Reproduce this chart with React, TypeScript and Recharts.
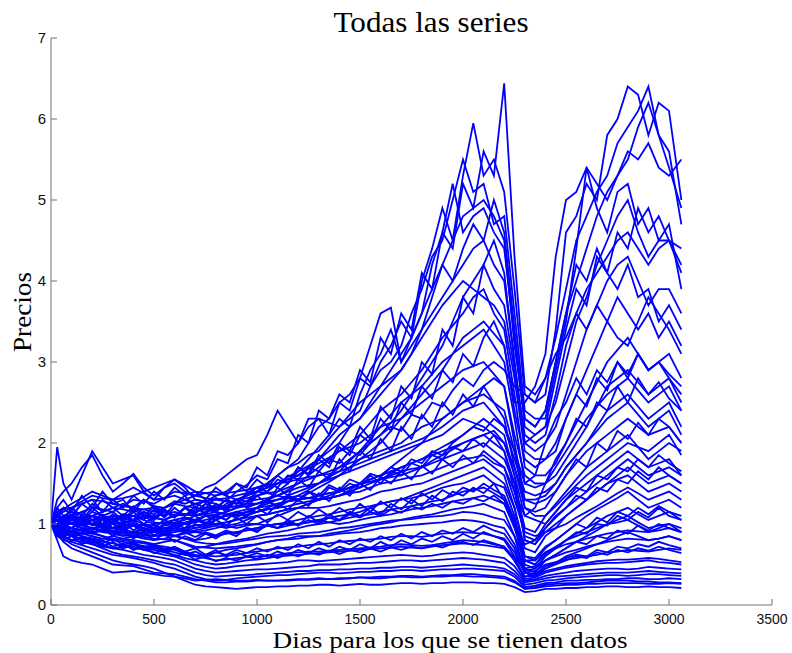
import React from "react";
import { LineChart, Line, XAxis, YAxis } from "recharts";

const days = [0, 30, 60, 100, 150, 200, 250, 300, 350, 400, 450, 500, 550, 600, 650, 700, 750, 800, 850, 900, 950,
  1000, 1050, 1100, 1150, 1200, 1250, 1300, 1350, 1400, 1450, 1500, 1550, 1600, 1650, 1700, 1750, 1800, 1850, 1900, 1950,
  2000, 2050, 2100, 2150, 2200, 2250, 2300, 2350, 2400, 2450,
  2500, 2550, 2600, 2650, 2700, 2750, 2800, 2850, 2900, 2950, 3000, 3060];
const xTicks = [0, 500, 1000, 1500, 2000, 2500, 3000, 3500];
const yTicks = [0, 1, 2, 3, 4, 5, 6, 7];

// high group
const h1 = [1.0, 1.1, 1.05,
  1.12, 1.05, 1.2, 1.1, 1.15, 1.05, 1.18, 1.1, 1.22, 1.15, 1.1, 1.2, 1.25, 1.2, 1.32, 1.28, 1.4, 1.48,
  1.6, 1.55, 1.8, 1.75, 2.1, 2.0, 2.4, 2.3, 2.6, 2.5, 2.9, 2.75, 3.3, 3.1, 3.6, 3.4, 4.1, 3.9, 4.6, 4.4,
  5.2, 4.9, 5.6, 5.3, 6.44, 4.3, 2.7, 2.6, 2.8, 3.3,
  3.9, 4.5, 4.8, 5.1, 5.3, 5.7, 5.9, 6.1, 6.4, 5.8, 5.6, 4.7];
const h2 = [1.0, 0.95, 1.05,
  1.1, 1.25, 1.3, 1.15, 1.2, 1.25, 1.2, 1.3, 1.22, 1.2, 1.28, 1.25, 1.3, 1.27, 1.35, 1.4, 1.5, 1.45,
  1.7, 1.6, 1.9, 1.85, 2.0, 2.2, 2.3, 2.1, 2.5, 2.4, 2.8, 2.7, 3.0, 3.2, 3.5, 3.3, 4.0, 4.4, 4.9, 4.5,
  5.3, 5.95, 5.3, 5.5, 5.1, 3.9, 2.6, 2.5, 2.6, 3.4,
  4.6, 4.8, 5.2, 5.0, 5.8, 6.0, 6.4, 6.3, 5.8, 6.2, 6.1, 5.0];
const h3 = [1.0, 1.1, 1.0,
  0.95, 1.05, 1.15, 1.1, 1.05, 1.12, 1.1, 1.0, 1.08, 1.05, 1.12, 1.1, 1.18, 1.2, 1.22, 1.2, 1.3, 1.28,
  1.4, 1.5, 1.6, 1.7, 1.75, 1.85, 1.9, 2.05, 2.2, 2.3, 2.4, 2.7, 2.9, 3.0, 3.2, 3.6, 3.9, 4.3, 4.5, 5.0,
  5.5, 5.1, 5.2, 4.7, 4.8, 3.6, 2.4, 2.3, 2.3, 2.9,
  3.5, 4.4, 5.4, 4.9, 4.6, 5.1, 5.2, 4.7, 4.9, 4.5, 4.5, 4.4];
const h4 = [1.0, 1.2, 1.1,
  1.1, 1.05, 1.0, 1.08, 1.05, 1.0, 1.05, 1.1, 1.02, 1.0, 1.05, 1.08, 1.05, 1.1, 1.12, 1.15, 1.2, 1.25,
  1.35, 1.4, 1.5, 1.55, 1.6, 1.7, 1.8, 1.9, 2.0, 2.2, 2.3, 2.5, 2.7, 2.9, 3.1, 3.3, 3.6, 4.2, 4.6, 5.2,
  4.6, 4.8, 4.9, 4.6, 4.4, 3.3, 2.2, 2.1, 2.2, 2.5,
  3.0, 3.5, 3.8, 4.2, 4.5, 4.8, 5.0, 4.6, 4.3, 4.5, 4.7, 3.9];
const h5 = [1.0, 0.9, 1.0,
  1.05, 1.0, 1.0, 0.95, 0.95, 1.0, 0.98, 0.95, 0.92, 1.0, 1.02, 1.05, 1.1, 1.15, 1.2, 1.18, 1.3, 1.35,
  1.45, 1.5, 1.6, 1.7, 1.8, 2.0, 2.2, 2.3, 2.5, 2.6, 2.8, 3.2, 3.6, 3.67, 3.0, 3.2, 3.4, 3.6, 3.8, 4.0,
  4.2, 4.4, 4.5, 4.2, 4.0, 3.0, 2.0, 1.9, 2.0, 2.2,
  2.6, 3.0, 3.4, 3.7, 4.0, 4.2, 4.3, 4.0, 3.7, 3.9, 3.9, 3.6];
const h6 = [1.0, 1.05, 1.1,
  1.1, 1.0, 1.0, 1.05, 1.1, 1.05, 1.1, 1.15, 1.12, 1.2, 1.25, 1.3, 1.35, 1.45, 1.5, 1.6, 1.7, 1.8,
  1.85, 2.1, 2.4, 2.2, 2.0, 2.3, 2.3, 2.25, 2.2, 2.35, 2.5, 2.6, 2.7, 2.8, 2.9, 3.1, 3.3, 3.5, 3.7, 3.85,
  4.0, 3.9, 3.8, 3.7, 3.5, 2.8, 1.9, 1.8, 1.8, 1.9,
  2.3, 2.6, 2.9, 3.2, 3.5, 3.3, 3.2, 3.5, 3.8, 3.6, 3.4, 3.1];
const h7 = [1.0, 1.0, 0.95,
  0.9, 0.92, 0.95, 0.9, 0.88, 0.85, 0.88, 0.9, 0.92, 0.95, 0.98, 1.0, 1.05, 1.1, 1.1, 1.15, 1.2, 1.22,
  1.25, 1.3, 1.35, 1.42, 1.5, 1.6, 1.7, 1.8, 1.9, 2.0, 2.1, 2.25, 2.4, 2.5, 2.6, 2.75, 2.9, 3.1, 3.3, 3.45,
  3.6, 3.8, 3.9, 3.6, 3.4, 2.6, 1.7, 1.6, 1.6, 1.75,
  2.0, 2.25, 2.5, 2.75, 3.0, 3.15, 3.3, 3.1, 2.9, 3.0, 3.1, 2.8];
const h8 = [1.0, 0.95, 1.0,
  1.0, 1.05, 1.1, 1.05, 1.0, 0.95, 0.98, 1.0, 0.95, 0.9, 0.92, 0.95, 0.98, 1.0, 1.05, 1.1, 1.12, 1.15,
  1.2, 1.25, 1.3, 1.35, 1.4, 1.45, 1.5, 1.6, 1.7, 1.8, 1.9, 2.05, 2.2, 2.35, 2.5, 2.6, 2.7, 2.85, 3.0, 3.1,
  3.2, 3.3, 3.4, 3.2, 3.0, 2.3, 1.5, 1.45, 1.5, 1.6,
  1.8, 2.0, 2.2, 2.45, 2.7, 2.8, 2.9, 2.75, 2.6, 2.7, 2.8, 2.5];
const h9 = [1.0, 1.1, 1.05,
  1.0, 1.02, 1.05, 1.0, 0.95, 0.92, 0.9, 0.95, 0.92, 0.9, 0.95, 1.0, 1.02, 1.05, 1.08, 1.1, 1.12, 1.15,
  1.15, 1.2, 1.25, 1.28, 1.3, 1.38, 1.45, 1.52, 1.6, 1.7, 1.8, 1.9, 2.0, 2.15, 2.3, 2.45, 2.6, 2.75, 2.9, 3.1,
  3.3, 3.4, 3.5, 3.35, 3.2, 2.5, 2.5, 2.7, 3.1, 4.3,
  5.0, 5.1, 5.4, 5.2, 5.0, 5.3, 5.6, 5.5, 5.7, 5.4, 5.3, 5.5];
const h10 = [1.0, 1.0, 1.02,
  1.05, 1.0, 0.95, 0.98, 1.0, 1.02, 1.05, 1.0, 0.98, 0.95, 0.92, 0.9, 0.92, 0.95, 0.98, 0.95, 0.98, 1.0,
  1.0, 1.05, 1.1, 1.15, 1.2, 1.25, 1.3, 1.32, 1.35, 1.42, 1.5, 1.55, 1.6, 1.7, 1.8, 1.9, 2.0, 2.15, 2.3, 2.4,
  2.5, 2.6, 2.7, 2.8, 2.7, 2.0, 1.3, 1.3, 1.35, 1.5,
  1.7, 1.85, 2.0, 2.2, 2.4, 2.5, 2.6, 2.45, 2.3, 2.4, 2.5, 2.2];
const h11 = [1.0, 1.05, 1.02,
  1.0, 0.95, 0.9, 0.92, 0.95, 0.92, 0.9, 0.88, 0.85, 0.88, 0.9, 0.92, 0.95, 0.98, 1.0, 1.02, 1.05, 1.1,
  1.15, 1.18, 1.2, 1.28, 1.35, 1.42, 1.5, 1.58, 1.65, 1.78, 1.9, 2.0, 2.1, 2.25, 2.4, 2.6, 2.8, 3.0, 3.2, 3.5,
  3.8, 4.0, 4.2, 3.9, 3.7, 2.9, 2.1, 2.0, 2.1, 2.6,
  3.2, 3.6, 3.9, 4.1, 4.3, 4.5, 4.6, 4.4, 4.2, 4.4, 4.5, 4.1];
const h12 = [1.0, 1.1, 1.08,
  1.05, 1.08, 1.1, 1.05, 1.0, 1.02, 1.05, 1.1, 1.08, 1.05, 1.1, 1.12, 1.1, 1.15, 1.18, 1.2, 1.22, 1.25,
  1.4, 1.45, 1.5, 1.58, 1.65, 1.72, 1.8, 1.95, 2.1, 2.2, 2.3, 2.45, 2.6, 2.75, 2.9, 3.1, 3.4, 3.8, 4.2, 4.5,
  4.8, 4.9, 5.0, 4.8, 4.5, 3.2, 2.3, 2.2, 2.4, 3.0,
  3.6, 4.0, 4.4, 4.8, 5.1, 5.3, 5.5, 5.9, 6.2, 5.8, 5.4, 4.9];
const h13 = [1.0, 1.0, 1.1,
  1.05, 1.15, 1.05, 1.12, 1.0, 1.1, 1.02, 1.12, 1.05, 1.15, 1.08, 1.2, 1.12, 1.25, 1.18, 1.3, 1.25, 1.38,
  1.45, 1.4, 1.55, 1.5, 1.7, 1.62, 1.85, 1.75, 2.0, 1.9, 2.2, 2.05, 2.45, 2.3, 2.7, 2.55, 3.0, 2.85, 3.4, 3.2,
  3.8, 3.6, 4.2, 4.5, 4.1, 3.0, 2.0, 2.1, 2.2, 2.8,
  3.4, 3.9, 3.7, 4.3, 4.1, 4.6, 4.4, 4.9, 4.6, 4.8, 4.5, 4.2];
const h14 = [1.0, 1.05, 1.0,
  1.1, 1.0, 1.05, 0.95, 1.0, 0.92, 0.98, 0.9, 0.95, 0.92, 1.0, 0.95, 1.05, 1.0, 1.1, 1.05, 1.15, 1.1,
  1.2, 1.3, 1.4, 1.5, 1.65, 1.8, 1.95, 2.1, 2.3, 2.2, 2.6, 2.9, 3.1, 3.4, 3.0, 3.3, 3.6, 3.9, 4.2, 4.0,
  4.4, 4.7, 4.5, 5.0, 4.6, 3.4, 2.3, 2.2, 2.4, 3.0,
  3.6, 4.2, 4.0, 4.4, 4.1, 3.9, 4.2, 3.8, 3.9, 3.5, 3.7, 3.4];

// middle group
const m1 = [1.0, 1.95, 1.5,
  1.3, 1.6, 1.9, 1.7, 1.5, 1.55, 1.6, 1.4, 1.3, 1.45, 1.5, 1.4, 1.35, 1.38, 1.4, 1.35, 1.3, 1.32,
  1.35, 1.38, 1.4, 1.45, 1.5, 1.55, 1.6, 1.65, 1.7, 1.75, 1.8, 1.85, 1.9, 1.95, 2.0, 2.1, 2.2, 2.25, 2.3, 2.4,
  2.5, 2.55, 2.6, 2.5, 2.4, 1.9, 1.2, 1.1, 1.1, 1.25,
  1.4, 1.55, 1.7, 1.8, 1.9, 2.0, 2.1, 1.95, 1.8, 1.9, 2.0, 1.9];
const m2 = [1.0, 1.3, 1.4,
  1.5, 1.7, 1.85, 1.6, 1.4, 1.5, 1.62, 1.45, 1.35, 1.45, 1.55, 1.45, 1.3, 1.28, 1.25, 1.2, 1.22, 1.25,
  1.25, 1.28, 1.3, 1.32, 1.35, 1.32, 1.3, 1.35, 1.4, 1.45, 1.5, 1.52, 1.55, 1.58, 1.6, 1.65, 1.7, 1.75, 1.8, 1.85,
  1.9, 1.95, 2.0, 1.9, 1.8, 1.5, 0.8, 0.75, 0.9, 1.0,
  1.1, 1.2, 1.3, 1.4, 1.5, 1.55, 1.6, 1.5, 1.4, 1.45, 1.5, 1.4];
const m3 = [1.0, 1.15, 1.2,
  1.2, 1.25, 1.3, 1.28, 1.25, 1.22, 1.2, 1.18, 1.15, 1.2, 1.25, 1.22, 1.2, 1.18, 1.15, 1.12, 1.1, 1.12,
  1.15, 1.18, 1.2, 1.22, 1.25, 1.28, 1.3, 1.32, 1.35, 1.38, 1.4, 1.45, 1.5, 1.52, 1.55, 1.58, 1.6, 1.65, 1.7, 1.75,
  1.8, 1.82, 1.85, 1.75, 1.7, 1.3, 0.9, 0.85, 0.9, 0.95,
  1.0, 1.08, 1.15, 1.22, 1.3, 1.38, 1.45, 1.38, 1.3, 1.35, 1.4, 1.3];
const m4 = [1.0, 1.05, 1.0,
  0.95, 1.02, 1.1, 1.08, 1.05, 1.08, 1.1, 1.05, 1.0, 1.02, 1.05, 1.0, 0.95, 0.98, 1.0, 1.02, 1.05, 1.08,
  1.1, 1.12, 1.15, 1.18, 1.2, 1.2, 1.2, 1.22, 1.25, 1.28, 1.3, 1.35, 1.4, 1.42, 1.45, 1.48, 1.5, 1.55, 1.6, 1.65,
  1.7, 1.75, 1.8, 1.7, 1.6, 1.2, 0.6, 0.55, 0.7, 0.8,
  0.9, 1.0, 1.1, 1.18, 1.25, 1.32, 1.4, 1.3, 1.2, 1.25, 1.3, 1.2];
const m5 = [1.0, 0.9, 0.88,
  0.85, 0.9, 0.95, 0.92, 0.9, 0.88, 0.85, 0.82, 0.8, 0.82, 0.85, 0.82, 0.8, 0.82, 0.85, 0.88, 0.9, 0.92,
  0.95, 0.98, 1.0, 1.02, 1.05, 1.08, 1.1, 1.12, 1.15, 1.18, 1.2, 1.22, 1.25, 1.28, 1.3, 1.32, 1.35, 1.4, 1.45, 1.48,
  1.5, 1.55, 1.6, 1.5, 1.45, 1.1, 0.5, 0.45, 0.6, 0.7,
  0.8, 0.88, 0.95, 1.02, 1.1, 1.15, 1.2, 1.12, 1.05, 1.1, 1.15, 1.05];
const m6 = [1.0, 1.0, 1.05,
  1.1, 1.15, 1.2, 1.18, 1.15, 1.22, 1.3, 1.28, 1.25, 1.32, 1.4, 1.38, 1.35, 1.32, 1.3, 1.28, 1.25, 1.28,
  1.3, 1.32, 1.35, 1.4, 1.45, 1.48, 1.5, 1.55, 1.6, 1.65, 1.7, 1.75, 1.8, 1.85, 1.9, 1.95, 2.0, 2.05, 2.1, 2.2,
  2.3, 2.25, 2.2, 2.1, 2.0, 1.6, 1.1, 1.05, 1.0, 1.15,
  1.3, 1.4, 1.5, 1.6, 1.7, 1.8, 1.9, 1.8, 1.7, 1.75, 1.8, 1.6];
const m7 = [1.0, 0.95, 0.92,
  0.9, 0.85, 0.8, 0.82, 0.85, 0.82, 0.8, 0.78, 0.75, 0.78, 0.8, 0.75, 0.7, 0.72, 0.75, 0.78, 0.8, 0.82,
  0.85, 0.88, 0.9, 0.92, 0.95, 0.98, 1.0, 1.02, 1.05, 1.08, 1.1, 1.12, 1.15, 1.18, 1.2, 1.22, 1.25, 1.28, 1.3, 1.35,
  1.4, 1.42, 1.45, 1.38, 1.3, 1.0, 0.45, 0.4, 0.55, 0.62,
  0.7, 0.78, 0.85, 0.92, 1.0, 1.05, 1.1, 1.02, 0.95, 0.98, 1.0, 0.95];
const m8 = [1.0, 1.1, 1.08,
  1.05, 1.02, 1.0, 0.98, 0.95, 0.98, 1.0, 0.95, 0.9, 0.92, 0.95, 0.92, 0.9, 0.88, 0.85, 0.88, 0.9, 0.92,
  0.95, 0.98, 1.0, 1.0, 1.0, 1.02, 1.05, 1.08, 1.1, 1.12, 1.15, 1.2, 1.25, 1.28, 1.3, 1.35, 1.4, 1.45, 1.5, 1.55,
  1.6, 1.65, 1.7, 1.6, 1.5, 1.2, 0.7, 0.65, 0.85, 0.95,
  1.1, 1.2, 1.3, 1.4, 1.5, 1.6, 1.7, 1.6, 1.5, 1.55, 1.6, 1.5];
const m9 = [1.0, 1.05, 1.1,
  1.15, 1.12, 1.1, 1.15, 1.2, 1.18, 1.15, 1.18, 1.2, 1.15, 1.1, 1.12, 1.15, 1.18, 1.2, 1.22, 1.3, 1.35,
  1.4, 1.45, 1.5, 1.55, 1.6, 1.68, 1.75, 1.82, 1.9, 1.95, 2.0, 2.1, 2.2, 2.25, 2.3, 2.4, 2.5, 2.6, 2.7, 2.8,
  2.9, 2.95, 3.0, 2.85, 2.7, 2.1, 1.6, 1.5, 1.5, 1.7,
  1.9, 2.1, 2.3, 2.45, 2.6, 2.7, 2.8, 2.65, 2.5, 2.6, 2.7, 2.4];
const m10 = [1.0, 0.9, 0.92,
  0.95, 0.92, 0.9, 0.92, 0.95, 0.98, 1.0, 0.98, 0.95, 0.98, 1.0, 1.02, 1.05, 1.02, 1.0, 0.98, 0.95, 0.98,
  1.0, 0.98, 0.95, 0.98, 1.0, 1.02, 1.05, 1.02, 1.0, 1.02, 1.05, 1.08, 1.1, 1.12, 1.15, 1.18, 1.2, 1.22, 1.25, 1.28,
  1.3, 1.32, 1.35, 1.3, 1.25, 0.95, 0.55, 0.5, 0.65, 0.72,
  0.8, 0.85, 0.9, 0.95, 1.0, 1.02, 1.05, 0.98, 0.9, 0.95, 1.0, 0.9];
const m11 = [1.0, 1.1, 1.15,
  1.2, 1.28, 1.35, 1.32, 1.3, 1.38, 1.45, 1.38, 1.3, 1.32, 1.35, 1.3, 1.25, 1.28, 1.3, 1.32, 1.35, 1.38,
  1.4, 1.38, 1.35, 1.32, 1.3, 1.32, 1.35, 1.38, 1.4, 1.45, 1.5, 1.52, 1.55, 1.6, 1.65, 1.68, 1.7, 1.78, 1.85, 1.92,
  2.0, 2.05, 2.1, 2.0, 1.9, 1.5, 0.95, 0.9, 1.1, 1.22,
  1.35, 1.48, 1.6, 1.7, 1.8, 1.9, 2.0, 1.95, 1.9, 2.0, 2.1, 1.85];
const m12 = [1.0, 0.9, 0.85,
  0.8, 0.78, 0.75, 0.72, 0.7, 0.72, 0.75, 0.72, 0.7, 0.68, 0.65, 0.62, 0.6, 0.62, 0.65, 0.68, 0.7, 0.72,
  0.75, 0.78, 0.8, 0.82, 0.85, 0.85, 0.85, 0.88, 0.9, 0.92, 0.95, 0.98, 1.0, 1.02, 1.05, 1.08, 1.1, 1.12, 1.15, 1.18,
  1.2, 1.22, 1.25, 1.2, 1.15, 0.85, 0.4, 0.35, 0.45, 0.52,
  0.6, 0.65, 0.7, 0.75, 0.8, 0.85, 0.9, 0.85, 0.8, 0.82, 0.85, 0.8];
const m13 = [1.0, 1.05, 1.02,
  1.0, 1.02, 1.05, 1.08, 1.1, 1.08, 1.05, 1.08, 1.1, 1.12, 1.15, 1.12, 1.1, 1.12, 1.15, 1.12, 1.15, 1.18,
  1.2, 1.22, 1.25, 1.28, 1.3, 1.32, 1.35, 1.38, 1.4, 1.45, 1.5, 1.55, 1.6, 1.65, 1.7, 1.75, 1.8, 1.85, 1.9, 1.95,
  2.0, 2.05, 2.1, 2.15, 2.0, 1.7, 1.3, 1.25, 1.3, 1.4,
  1.6, 1.75, 1.9, 2.0, 2.1, 2.2, 2.3, 2.2, 2.1, 2.15, 2.2, 2.0];
const m14 = [1.0, 0.95, 0.9,
  0.85, 0.88, 0.9, 0.85, 0.8, 0.82, 0.85, 0.88, 0.9, 0.88, 0.85, 0.88, 0.9, 0.92, 0.95, 0.98, 1.0, 1.05,
  1.1, 1.12, 1.15, 1.18, 1.2, 1.25, 1.3, 1.32, 1.35, 1.4, 1.45, 1.5, 1.55, 1.62, 1.7, 1.75, 1.8, 1.88, 1.95, 2.02,
  2.1, 2.2, 2.3, 2.2, 2.1, 1.6, 0.8, 0.75, 0.95, 1.08,
  1.2, 1.3, 1.4, 1.5, 1.6, 1.7, 1.8, 1.7, 1.6, 1.65, 1.7, 1.6];
const m15 = [1.0, 1.1, 1.18,
  1.25, 1.32, 1.4, 1.35, 1.3, 1.32, 1.35, 1.4, 1.45, 1.5, 1.55, 1.48, 1.4, 1.38, 1.35, 1.38, 1.4, 1.42,
  1.45, 1.48, 1.5, 1.52, 1.55, 1.58, 1.6, 1.62, 1.65, 1.7, 1.75, 1.8, 1.85, 1.9, 1.95, 2.0, 2.05, 2.12, 2.2, 2.3,
  2.4, 2.45, 2.5, 2.35, 2.2, 1.8, 1.4, 1.35, 1.4, 1.5,
  1.7, 1.85, 2.0, 2.15, 2.3, 2.4, 2.5, 2.35, 2.2, 2.3, 2.4, 2.1];
const m16 = [1.0, 1.2, 1.3,
  1.15, 1.35, 1.2, 1.4, 1.25, 1.3, 1.15, 1.3, 1.2, 1.1, 1.25, 1.35, 1.2, 1.3, 1.15, 1.25, 1.3, 1.2,
  1.25, 1.3, 1.2, 1.35, 1.3, 1.4, 1.3, 1.45, 1.4, 1.5, 1.45, 1.6, 1.5, 1.65, 1.6, 1.75, 1.7, 1.85, 1.8, 1.95,
  1.9, 2.05, 1.95, 2.1, 1.9, 1.4, 0.85, 0.8, 1.0, 1.15,
  1.3, 1.45, 1.4, 1.6, 1.55, 1.7, 1.65, 1.8, 1.7, 1.85, 1.75, 1.65];
const m17 = [1.0, 0.85, 0.95,
  0.9, 1.0, 0.88, 0.95, 0.85, 0.92, 0.82, 0.9, 0.8, 0.88, 0.78, 0.85, 0.8, 0.88, 0.82, 0.9, 0.85, 0.95,
  0.9, 1.0, 0.95, 1.05, 0.98, 1.1, 1.02, 1.12, 1.05, 1.15, 1.1, 1.2, 1.12, 1.25, 1.18, 1.3, 1.22, 1.35, 1.28, 1.4,
  1.35, 1.45, 1.38, 1.5, 1.3, 1.0, 0.55, 0.5, 0.62, 0.7,
  0.8, 0.9, 0.88, 1.0, 0.98, 1.1, 1.05, 1.15, 1.08, 1.2, 1.1, 1.05];
const m18 = [1.0, 1.1, 1.0,
  1.08, 0.98, 1.1, 1.0, 1.12, 1.02, 1.15, 1.05, 1.18, 1.08, 1.2, 1.1, 1.22, 1.12, 1.25, 1.15, 1.3, 1.2,
  1.35, 1.25, 1.45, 1.35, 1.55, 1.45, 1.65, 1.55, 1.8, 1.65, 1.9, 1.8, 2.05, 1.9, 2.2, 2.05, 2.35, 2.2, 2.5, 2.35,
  2.6, 2.45, 2.7, 2.5, 2.3, 1.7, 1.2, 1.15, 1.2, 1.4,
  1.6, 1.8, 1.7, 2.0, 1.9, 2.15, 2.05, 2.25, 2.1, 2.3, 2.2, 2.0];
const m19 = [1.0, 0.88, 0.8,
  0.85, 0.75, 0.8, 0.72, 0.78, 0.7, 0.75, 0.68, 0.72, 0.65, 0.7, 0.62, 0.66, 0.6, 0.65, 0.62, 0.68, 0.64,
  0.7, 0.66, 0.72, 0.68, 0.75, 0.7, 0.78, 0.72, 0.8, 0.75, 0.82, 0.78, 0.85, 0.8, 0.88, 0.82, 0.9, 0.85, 0.92, 0.88,
  0.95, 0.9, 0.98, 0.92, 0.88, 0.7, 0.4, 0.38, 0.48, 0.52,
  0.58, 0.62, 0.6, 0.68, 0.65, 0.72, 0.7, 0.75, 0.72, 0.78, 0.74, 0.7];
const m20 = [1.0, 1.15, 1.05,
  1.2, 1.1, 1.25, 1.15, 1.3, 1.2, 1.35, 1.25, 1.4, 1.3, 1.45, 1.35, 1.4, 1.3, 1.45, 1.35, 1.5, 1.4,
  1.55, 1.45, 1.6, 1.5, 1.7, 1.6, 1.8, 1.7, 1.95, 1.85, 2.1, 2.0, 2.3, 2.15, 2.5, 2.35, 2.7, 2.55, 2.9, 2.75,
  3.1, 2.95, 3.3, 3.5, 3.2, 2.4, 1.8, 1.7, 1.8, 2.0,
  2.3, 2.6, 2.45, 2.8, 2.65, 3.0, 2.85, 3.1, 2.9, 3.0, 2.8, 2.6];
const m21 = [1.0, 1.05, 0.95,
  1.02, 0.95, 1.05, 0.98, 1.08, 0.95, 1.05, 0.92, 1.0, 0.9, 0.98, 0.92, 1.0, 0.95, 1.05, 0.98, 1.08, 1.0,
  1.1, 1.02, 1.12, 1.05, 1.15, 1.08, 1.18, 1.1, 1.2, 1.12, 1.25, 1.15, 1.28, 1.2, 1.32, 1.25, 1.38, 1.3, 1.42, 1.35,
  1.45, 1.4, 1.5, 1.42, 1.35, 1.05, 0.6, 0.58, 0.72, 0.8,
  0.9, 1.0, 0.95, 1.08, 1.02, 1.15, 1.1, 1.2, 1.12, 1.22, 1.15, 1.1];
const m22 = [1.0, 1.1, 1.2,
  1.1, 1.25, 1.15, 1.3, 1.2, 1.1, 1.22, 1.12, 1.05, 1.18, 1.08, 1.2, 1.1, 1.0, 1.12, 1.05, 1.15, 1.1,
  1.2, 1.12, 1.25, 1.18, 1.3, 1.22, 1.38, 1.28, 1.45, 1.35, 1.5, 1.42, 1.58, 1.5, 1.65, 1.55, 1.72, 1.62, 1.8, 1.7,
  1.85, 1.75, 1.9, 1.8, 1.7, 1.4, 1.1, 1.2, 1.5, 1.8,
  2.0, 2.3, 2.2, 2.5, 2.4, 2.7, 2.5, 2.8, 2.6, 2.75, 2.55, 2.4];
const m23 = [1.0, 0.9, 0.85,
  0.88, 0.8, 0.85, 0.76, 0.82, 0.74, 0.78, 0.7, 0.75, 0.68, 0.72, 0.66, 0.7, 0.62, 0.68, 0.6, 0.65, 0.6,
  0.64, 0.6, 0.66, 0.62, 0.68, 0.64, 0.7, 0.66, 0.72, 0.68, 0.75, 0.7, 0.78, 0.72, 0.8, 0.75, 0.82, 0.78, 0.85, 0.8,
  0.88, 0.82, 0.9, 0.85, 0.8, 0.6, 0.42, 0.45, 0.55, 0.62,
  0.7, 0.78, 0.75, 0.85, 0.82, 0.92, 0.88, 0.98, 0.92, 1.0, 0.95, 0.9];
const m24 = [1.0, 0.95, 1.05,
  1.0, 1.08, 0.98, 1.05, 0.95, 1.02, 0.92, 1.0, 0.95, 1.05, 0.98, 1.08, 1.02, 1.1, 1.05, 1.12, 1.08, 1.15,
  1.2, 1.28, 1.22, 1.32, 1.28, 1.4, 1.35, 1.48, 1.42, 1.55, 1.5, 1.62, 1.58, 1.7, 1.65, 1.8, 1.75, 1.9, 1.85, 2.0,
  2.1, 2.2, 2.15, 2.3, 2.2, 1.9, 1.5, 1.6, 2.0, 2.3,
  2.5, 2.8, 2.6, 2.9, 2.75, 3.0, 2.8, 3.1, 2.9, 3.0, 2.85, 2.7];
const m25 = [1.0, 1.05, 1.0,
  1.05, 1.1, 1.0, 1.08, 1.02, 1.12, 1.05, 1.15, 1.08, 1.18, 1.1, 1.2, 1.15, 1.25, 1.2, 1.3, 1.25, 1.35,
  1.4, 1.5, 1.45, 1.6, 1.55, 1.7, 1.65, 1.8, 1.75, 1.9, 1.85, 2.0, 2.1, 2.2, 2.15, 2.35, 2.3, 2.5, 2.45, 2.65,
  2.8, 2.7, 2.9, 3.0, 2.9, 2.7, 2.6, 2.5, 2.8, 3.1,
  3.3, 3.6, 3.4, 3.7, 3.5, 3.8, 3.6, 3.4, 3.6, 3.3, 3.5, 3.2];
const m26 = [1.0, 0.92, 0.98,
  0.95, 1.02, 0.92, 0.98, 0.9, 0.96, 0.88, 0.94, 0.86, 0.92, 0.85, 0.9, 0.84, 0.9, 0.86, 0.92, 0.88, 0.95,
  0.92, 0.98, 0.95, 1.02, 0.98, 1.05, 1.0, 1.08, 1.04, 1.12, 1.08, 1.15, 1.1, 1.18, 1.14, 1.22, 1.18, 1.25, 1.2, 1.28,
  1.25, 1.32, 1.28, 1.35, 1.25, 1.0, 0.75, 0.8, 0.95, 1.1,
  1.2, 1.35, 1.3, 1.45, 1.4, 1.55, 1.5, 1.65, 1.55, 1.7, 1.6, 1.5];
const m27 = [1.0, 0.9, 0.84,
  0.8, 0.84, 0.76, 0.8, 0.72, 0.76, 0.68, 0.72, 0.64, 0.68, 0.6, 0.64, 0.56, 0.6, 0.54, 0.58, 0.55, 0.6,
  0.57, 0.62, 0.58, 0.63, 0.6, 0.65, 0.62, 0.67, 0.63, 0.68, 0.65, 0.7, 0.66, 0.71, 0.68, 0.72, 0.7, 0.74, 0.71, 0.76,
  0.78, 0.74, 0.8, 0.76, 0.72, 0.55, 0.35, 0.38, 0.45, 0.5,
  0.55, 0.6, 0.58, 0.65, 0.62, 0.68, 0.65, 0.7, 0.67, 0.72, 0.68, 0.64];

// low group
const l1 = [1.0, 0.8, 0.6,
  0.55, 0.52, 0.5, 0.45, 0.4, 0.41, 0.42, 0.4, 0.38, 0.36, 0.35, 0.33, 0.3, 0.31, 0.32, 0.31, 0.3, 0.3,
  0.31, 0.3, 0.3, 0.31, 0.32, 0.32, 0.33, 0.32, 0.32, 0.33, 0.34, 0.33, 0.33, 0.34, 0.35, 0.34, 0.34, 0.35, 0.35, 0.36,
  0.36, 0.35, 0.35, 0.34, 0.33, 0.28, 0.2, 0.22, 0.25, 0.26,
  0.27, 0.27, 0.28, 0.29, 0.3, 0.3, 0.3, 0.29, 0.29, 0.28, 0.28, 0.27];
const l2 = [1.0, 0.9, 0.82,
  0.75, 0.7, 0.65, 0.6, 0.55, 0.52, 0.5, 0.48, 0.45, 0.4, 0.35, 0.3, 0.25, 0.23, 0.22, 0.21, 0.2, 0.21,
  0.22, 0.22, 0.23, 0.23, 0.24, 0.24, 0.25, 0.25, 0.24, 0.25, 0.26, 0.25, 0.25, 0.26, 0.27, 0.27, 0.26, 0.27, 0.27, 0.28,
  0.28, 0.28, 0.27, 0.27, 0.26, 0.22, 0.16, 0.17, 0.2, 0.2,
  0.21, 0.21, 0.22, 0.22, 0.23, 0.23, 0.22, 0.22, 0.23, 0.22, 0.22, 0.21];
const l3 = [1.0, 0.95, 0.9,
  0.85, 0.8, 0.75, 0.7, 0.65, 0.62, 0.6, 0.58, 0.55, 0.52, 0.5, 0.45, 0.4, 0.37, 0.35, 0.36, 0.37, 0.37,
  0.38, 0.39, 0.4, 0.41, 0.42, 0.42, 0.43, 0.43, 0.44, 0.44, 0.45, 0.45, 0.46, 0.46, 0.47, 0.47, 0.46, 0.47, 0.48, 0.49,
  0.5, 0.49, 0.48, 0.47, 0.45, 0.38, 0.25, 0.27, 0.3, 0.31,
  0.33, 0.34, 0.35, 0.36, 0.37, 0.37, 0.36, 0.37, 0.38, 0.38, 0.37, 0.36];
const l4 = [1.0, 0.92, 0.85,
  0.8, 0.82, 0.8, 0.75, 0.7, 0.71, 0.72, 0.68, 0.65, 0.62, 0.6, 0.55, 0.5, 0.47, 0.45, 0.46, 0.48, 0.49,
  0.5, 0.51, 0.52, 0.53, 0.55, 0.55, 0.54, 0.55, 0.56, 0.57, 0.58, 0.59, 0.6, 0.61, 0.62, 0.61, 0.6, 0.61, 0.63, 0.64,
  0.65, 0.64, 0.62, 0.6, 0.58, 0.48, 0.3, 0.32, 0.36, 0.38,
  0.4, 0.42, 0.43, 0.44, 0.45, 0.45, 0.44, 0.45, 0.47, 0.46, 0.45, 0.44];
const l5 = [1.0, 0.95, 0.92,
  0.9, 0.88, 0.85, 0.82, 0.8, 0.78, 0.75, 0.73, 0.72, 0.7, 0.68, 0.64, 0.6, 0.58, 0.55, 0.56, 0.58, 0.59,
  0.6, 0.61, 0.62, 0.64, 0.65, 0.66, 0.66, 0.67, 0.68, 0.69, 0.7, 0.71, 0.72, 0.74, 0.75, 0.74, 0.73, 0.74, 0.76, 0.78,
  0.8, 0.79, 0.78, 0.75, 0.72, 0.58, 0.35, 0.36, 0.42, 0.45,
  0.48, 0.5, 0.52, 0.54, 0.55, 0.56, 0.56, 0.57, 0.58, 0.57, 0.55, 0.53];
const l6 = [1.0, 0.88, 0.78,
  0.7, 0.65, 0.6, 0.55, 0.5, 0.49, 0.48, 0.44, 0.4, 0.39, 0.38, 0.35, 0.32, 0.3, 0.28, 0.28, 0.29, 0.29,
  0.3, 0.3, 0.3, 0.3, 0.31, 0.31, 0.32, 0.32, 0.33, 0.33, 0.34, 0.34, 0.35, 0.35, 0.36, 0.36, 0.35, 0.36, 0.37, 0.37,
  0.38, 0.38, 0.37, 0.36, 0.35, 0.3, 0.2, 0.21, 0.23, 0.24,
  0.25, 0.25, 0.26, 0.26, 0.27, 0.27, 0.27, 0.27, 0.26, 0.26, 0.27, 0.26];
const l7 = [1.0, 0.98, 0.94,
  0.9, 0.89, 0.88, 0.85, 0.82, 0.8, 0.78, 0.76, 0.74, 0.72, 0.7, 0.66, 0.62, 0.61, 0.6, 0.61, 0.62, 0.64,
  0.66, 0.68, 0.7, 0.71, 0.72, 0.74, 0.75, 0.76, 0.78, 0.79, 0.8, 0.81, 0.82, 0.84, 0.85, 0.85, 0.84, 0.86, 0.88, 0.89,
  0.9, 0.89, 0.88, 0.85, 0.82, 0.65, 0.4, 0.42, 0.5, 0.53,
  0.56, 0.58, 0.6, 0.62, 0.65, 0.66, 0.68, 0.67, 0.66, 0.68, 0.7, 0.68];
const l8 = [1.0, 0.9, 0.87,
  0.85, 0.82, 0.78, 0.74, 0.7, 0.68, 0.65, 0.62, 0.6, 0.58, 0.55, 0.5, 0.45, 0.42, 0.4, 0.41, 0.42, 0.43,
  0.44, 0.44, 0.45, 0.46, 0.47, 0.48, 0.5, 0.5, 0.5, 0.51, 0.52, 0.52, 0.53, 0.54, 0.55, 0.55, 0.54, 0.55, 0.56, 0.57,
  0.58, 0.57, 0.56, 0.54, 0.52, 0.42, 0.28, 0.3, 0.33, 0.35,
  0.36, 0.37, 0.38, 0.39, 0.4, 0.4, 0.4, 0.41, 0.42, 0.41, 0.4, 0.39];
const l9 = [1.0, 0.96, 0.94,
  0.92, 0.94, 0.95, 0.92, 0.88, 0.86, 0.85, 0.84, 0.82, 0.81, 0.8, 0.76, 0.72, 0.71, 0.7, 0.71, 0.72, 0.74,
  0.75, 0.78, 0.8, 0.81, 0.82, 0.84, 0.85, 0.86, 0.88, 0.89, 0.9, 0.92, 0.95, 0.96, 0.98, 0.99, 1.0, 1.01, 1.02, 1.04,
  1.05, 1.04, 1.02, 0.98, 0.95, 0.75, 0.45, 0.48, 0.55, 0.6,
  0.65, 0.68, 0.72, 0.75, 0.78, 0.8, 0.82, 0.81, 0.8, 0.82, 0.85, 0.8];
const l10 = [1.0, 0.85, 0.8,
  0.78, 0.74, 0.7, 0.66, 0.62, 0.6, 0.58, 0.55, 0.52, 0.48, 0.45, 0.4, 0.35, 0.32, 0.3, 0.31, 0.33, 0.34,
  0.35, 0.36, 0.37, 0.37, 0.38, 0.39, 0.4, 0.4, 0.39, 0.4, 0.41, 0.41, 0.42, 0.42, 0.43, 0.43, 0.42, 0.43, 0.44, 0.44,
  0.45, 0.45, 0.44, 0.43, 0.42, 0.35, 0.22, 0.24, 0.27, 0.28,
  0.3, 0.3, 0.31, 0.31, 0.32, 0.32, 0.33, 0.33, 0.32, 0.32, 0.33, 0.32];
const l11 = [1.0, 0.93, 0.9,
  0.88, 0.85, 0.82, 0.79, 0.76, 0.73, 0.7, 0.69, 0.68, 0.65, 0.62, 0.58, 0.55, 0.52, 0.5, 0.51, 0.53, 0.55,
  0.56, 0.58, 0.6, 0.61, 0.62, 0.63, 0.64, 0.65, 0.66, 0.67, 0.68, 0.69, 0.7, 0.71, 0.72, 0.71, 0.7, 0.72, 0.74, 0.75,
  0.76, 0.75, 0.74, 0.72, 0.7, 0.55, 0.32, 0.34, 0.4, 0.43,
  0.46, 0.48, 0.5, 0.51, 0.52, 0.52, 0.53, 0.54, 0.55, 0.53, 0.52, 0.5];
const l12 = [1.0, 0.97, 0.96,
  0.95, 0.92, 0.9, 0.91, 0.92, 0.9, 0.88, 0.86, 0.85, 0.86, 0.86, 0.82, 0.78, 0.76, 0.75, 0.76, 0.78, 0.8,
  0.82, 0.84, 0.85, 0.86, 0.88, 0.89, 0.9, 0.92, 0.95, 0.96, 0.98, 1.0, 1.02, 1.04, 1.05, 1.06, 1.08, 1.09, 1.1, 1.12,
  1.15, 1.14, 1.12, 1.08, 1.05, 0.85, 0.55, 0.55, 0.65, 0.7,
  0.75, 0.78, 0.82, 0.85, 0.88, 0.9, 0.92, 0.91, 0.9, 0.92, 0.95, 0.9];

const seriesList = [h1, h2, h3, h4, h5, h6, h7, h8, h9, h10, h11, h12, h13, h14,
  m1, m2, m3, m4, m5, m6, m7, m8, m9, m10, m11, m12, m13, m14, m15, m16, m17, m18, m19, m20, m21,
  m22, m23, m24, m25, m26, m27,
  l1, l2, l3, l4, l5, l6, l7, l8, l9, l10, l11, l12];

const data = days.map((d, i) => {
  const row: Record<string, number> = { day: d };
  seriesList.forEach((s, k) => {
    row["s" + k] = s[i];
  });
  return row;
});

const AXIS = "#707070";
const TICK_FONT = "'Liberation Sans', Arial, sans-serif";
const SERIF = "'Liberation Serif', 'Times New Roman', serif";

const XTick = (props: any) => {
  const { x, y, payload } = props;
  const axisY = y - 14;
  return (
    <g>
      <line x1={x} x2={x} y1={axisY} y2={axisY - 6} stroke={AXIS} strokeWidth={1} />
      <text x={x} y={axisY + 19} textAnchor="middle" fontFamily={TICK_FONT} fontSize={14} fill="#111">
        {payload.value}
      </text>
    </g>
  );
};

const YTick = (props: any) => {
  const { x, y, payload } = props;
  const axisX = x + 6;
  return (
    <g>
      <line x1={axisX} x2={axisX + 6} y1={y} y2={y} stroke={AXIS} strokeWidth={1} />
      <text x={axisX - 5} y={y + 5} textAnchor="end" fontFamily={TICK_FONT} fontSize={15} fill="#111">
        {payload.value}
      </text>
    </g>
  );
};

export default function App() {
  return (
    <div style={{ position: "absolute", left: 0, top: 0, width: 792, height: 653, background: "#fff" }}>
      <LineChart width={792} height={653} data={data} margin={{ top: 38, right: 20, left: 11, bottom: 18 }}>
        <XAxis
          dataKey="day"
          type="number"
          domain={[0, 3500]}
          ticks={xTicks}
          interval={0}
          height={30}
          tickSize={0}
          tickMargin={14}
          tick={<XTick />}
          stroke={AXIS}
          allowDataOverflow
        />
        <YAxis
          type="number"
          domain={[0, 7]}
          ticks={yTicks}
          interval={0}
          width={40}
          tickSize={0}
          tickMargin={6}
          tick={<YTick />}
          stroke={AXIS}
          allowDataOverflow
        />
        {seriesList.map((_, k) => (
          <Line
            key={k}
            dataKey={"s" + k}
            type="linear"
            stroke="#0000ff"
            strokeWidth={1.8}
            dot={false}
            activeDot={false}
            isAnimationActive={false}
          />
        ))}
      </LineChart>
      <svg width={792} height={653} style={{ position: "absolute", left: 0, top: 0, pointerEvents: "none" }}>
        <text x={431} y={32} textAnchor="middle" fontFamily={SERIF} fontSize={29} fill="#000" textLength={195} lengthAdjust="spacingAndGlyphs">
          Todas las series
        </text>
        <text x={450} y={648} textAnchor="middle" fontFamily={SERIF} fontSize={23} fill="#000" textLength={355} lengthAdjust="spacingAndGlyphs">
          Dias para los que se tienen datos
        </text>
        <text x={31} y={312} transform="rotate(-90 31 312)" textAnchor="middle" fontFamily={SERIF} fontSize={26} fill="#000" textLength={80} lengthAdjust="spacingAndGlyphs">
          Precios
        </text>
      </svg>
    </div>
  );
}
